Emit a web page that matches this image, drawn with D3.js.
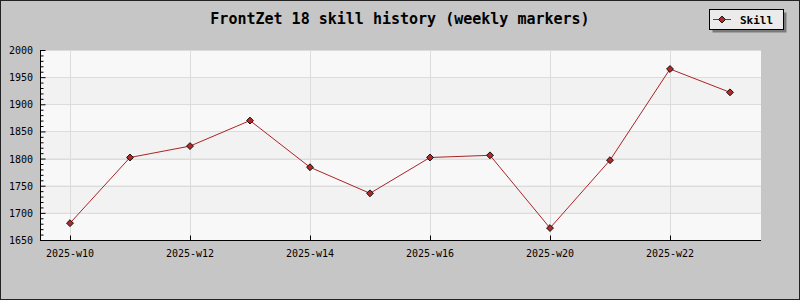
<!DOCTYPE html>
<html>
<head>
<meta charset="utf-8">
<script src="https://cdnjs.cloudflare.com/ajax/libs/d3/7.8.5/d3.min.js"></script>
<style>
  body { margin: 0; }
  svg { display: block; }
</style>
</head>
<body>
<svg id="chart" width="800" height="300"></svg>
<script>
// weekly skill values
var weeks = ["2025-w10","2025-w11","2025-w12","2025-w13","2025-w14","2025-w15",
             "2025-w16","2025-w18","2025-w20","2025-w21","2025-w22","2025-w23"];
var skill = [1681, 1802, 1823, 1870, 1784, 1736, 1802, 1806, 1672, 1797, 1965, 1922];
var yTicks = [1650, 1700, 1750, 1800, 1850, 1900, 1950, 2000];
var title = "FrontZet 18 skill history (weekly markers)";
var seriesName = "Skill";

var width = 800, height = 300;
var margin = {top: 50, right: 40, bottom: 60, left: 40};
var lineColor = "#aa2424", markerFill = "#b02a2a";

var canvas = d3.select("#chart");

// background + outer frame
canvas.append("rect")
  .attr("x", 0.5).attr("y", 0.5)
  .attr("width", width - 1).attr("height", height - 1)
  .style("fill", "#c6c6c6")
  .style("stroke", "#222")
  .style("stroke-width", 1);

var x = d3.scalePoint()
  .domain(weeks)
  .range([margin.left, width - margin.right])
  .padding(0.5);

var y = d3.scaleLinear()
  .domain([1650, 2000])
  .range([height - margin.bottom, margin.top]);

// alternating bands
var bands = d3.pairs(yTicks);
canvas.selectAll("rect.band")
  .data(bands)
  .enter()
  .append("rect")
  .attr("class", "band")
  .attr("x", margin.left)
  .attr("y", function(d){return y(d[1]);})
  .attr("width", width - margin.right - margin.left + 1)
  .attr("height", function(d){return y(d[0]) - y(d[1]);})
  .style("fill", function(d, i){return (bands.length - 1 - i) % 2 == 0 ? "#f8f8f8" : "#f2f2f2";});

// grid
var labelWeeks = weeks.filter(function(d, i){return i % 2 == 0;});
canvas.selectAll("line.hgrid")
  .data(yTicks.slice(1))
  .enter()
  .append("line")
  .attr("x1", margin.left).attr("x2", width - margin.right + 1)
  .attr("y1", function(d){return Math.round(y(d)) + 0.5;})
  .attr("y2", function(d){return Math.round(y(d)) + 0.5;})
  .style("stroke", "#dcdcdc");

canvas.selectAll("line.vgrid")
  .data(labelWeeks)
  .enter()
  .append("line")
  .attr("x1", function(d){return Math.round(x(d)) + 0.5;})
  .attr("x2", function(d){return Math.round(x(d)) + 0.5;})
  .attr("y1", margin.top).attr("y2", height - margin.bottom)
  .style("stroke", "#dcdcdc");

// y axis, ticks pointing inward
var yAxis = d3.axisRight(y)
  .tickValues(d3.range(1650, 2001, 10))
  .tickSize(3)
  .tickFormat("");
var yAxisG = canvas.append("g")
  .attr("transform", "translate(" + (margin.left + 0.5) + ",0)")
  .call(yAxis);
yAxisG.selectAll(".tick line")
  .attr("x2", function(d){return d % 50 == 0 ? 5 : 3;})
  .attr("transform", "translate(0,0)");
yAxisG.select(".domain").attr("d", "M0," + margin.top + "V" + (height - margin.bottom));

canvas.selectAll("text.ylab")
  .data(yTicks)
  .enter()
  .append("text")
  .attr("class", "ylab")
  .attr("x", 33)
  .attr("y", function(d){return y(d) + 4;})
  .attr("text-anchor", "end")
  .style("font-family", "DejaVu Sans Mono")
  .style("font-size", "10px")
  .text(function(d){return d;});

// x axis, ticks pointing up
var xAxis = d3.axisTop(x)
  .tickValues(labelWeeks)
  .tickSize(5)
  .tickFormat("");
var xAxisG = canvas.append("g")
  .attr("transform", "translate(0," + (height - margin.bottom + 0.5) + ")")
  .call(xAxis);
xAxisG.select(".domain").attr("d", "M" + margin.left + ",0H" + (width - margin.right + 1));

canvas.selectAll("text.xlab")
  .data(labelWeeks)
  .enter()
  .append("text")
  .attr("class", "xlab")
  .attr("x", function(d){return x(d);})
  .attr("y", height - margin.bottom + 17)
  .attr("text-anchor", "middle")
  .style("font-family", "DejaVu Sans Mono")
  .style("font-size", "10px")
  .text(function(d){return d;});

// series line
var line = d3.line()
  .x(function(d, i){return x(weeks[i]);})
  .y(function(d){return y(d);});

canvas.append("path")
  .datum(skill)
  .attr("d", line)
  .style("fill", "none")
  .style("stroke", lineColor)
  .style("stroke-width", 1);

var diamond = d3.symbol().type(d3.symbolDiamond2).size(30);
canvas.selectAll("path.marker")
  .data(skill)
  .enter()
  .append("path")
  .attr("class", "marker")
  .attr("d", diamond)
  .attr("transform", function(d, i){return "translate(" + x(weeks[i]) + "," + y(d) + ")";})
  .style("fill", markerFill)
  .style("stroke", "#111")
  .style("stroke-width", 1);

// title
canvas.append("text")
  .attr("x", width / 2)
  .attr("y", 24)
  .attr("text-anchor", "middle")
  .style("font-family", "DejaVu Sans Mono")
  .style("font-weight", "bold")
  .style("font-size", "15px")
  .text(title);

// legend
var legend = canvas.append("g").attr("transform", "translate(709,9)");
legend.append("rect")
  .attr("x", 3.5).attr("y", 3.5)
  .attr("width", 74).attr("height", 20)
  .style("fill", "#7a7a7a");
legend.append("rect")
  .attr("x", 0.5).attr("y", 0.5)
  .attr("width", 74).attr("height", 20)
  .style("fill", "#ebebeb")
  .style("stroke", "#000")
  .style("stroke-width", 1);
legend.append("line")
  .attr("x1", 4).attr("x2", 22)
  .attr("y1", 10.5).attr("y2", 10.5)
  .style("stroke", lineColor);
legend.append("path")
  .attr("d", diamond)
  .attr("transform", "translate(13,10.5)")
  .style("fill", markerFill)
  .style("stroke", "#111");
legend.append("text")
  .attr("x", 31)
  .attr("y", 15)
  .style("font-family", "DejaVu Sans Mono")
  .style("font-weight", "bold")
  .style("font-size", "11px")
  .text(seriesName);
</script>
</body>
</html>
